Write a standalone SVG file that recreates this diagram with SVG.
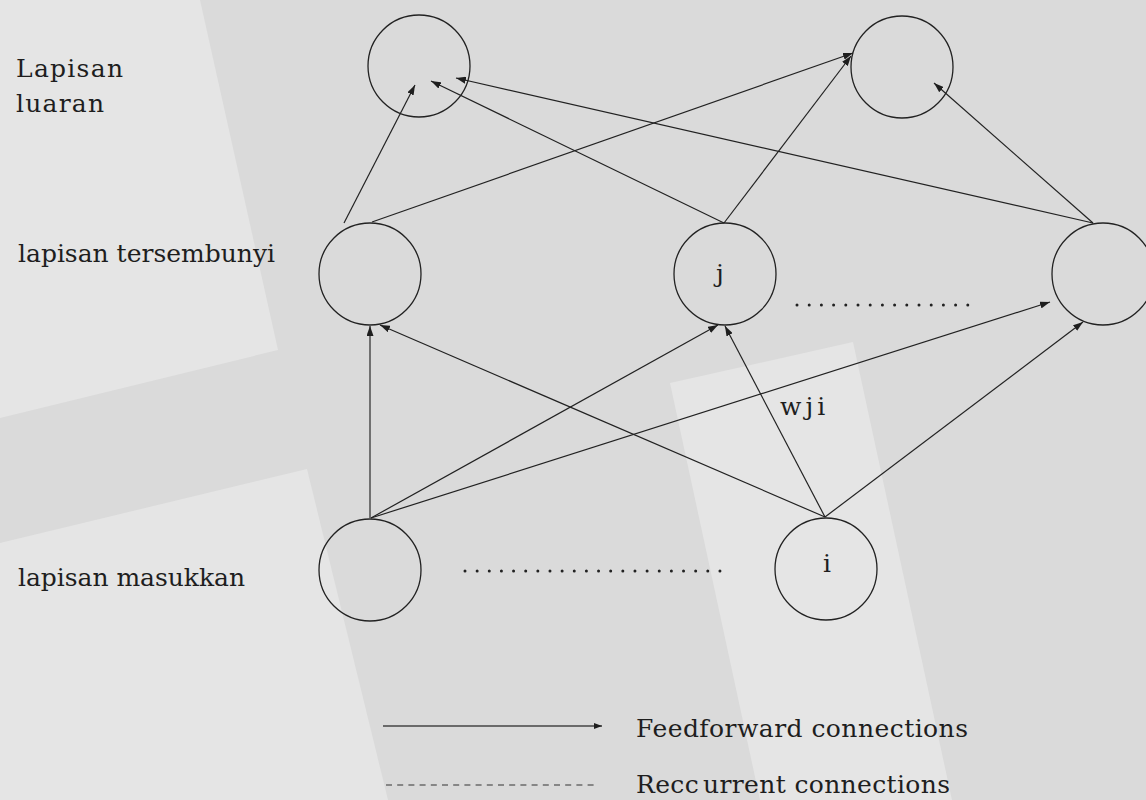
<svg xmlns="http://www.w3.org/2000/svg" width="1146" height="800" viewBox="0 0 1146 800">
<style>
.bg{fill:#dadada}
.lt{fill:#e5e5e5}
.node{fill:none;stroke:#222;stroke-width:1.3}
.conn line{stroke:#222;stroke-width:1.2;marker-end:url(#ah)}
.lbl{font-family:"DejaVu Serif","Liberation Serif",serif;font-size:25px;fill:#1e1e1e}
.dots{stroke:#222;stroke-width:3;stroke-linecap:round;fill:none}
</style>
<defs>
<marker id="ah" viewBox="0 0 10 7" refX="10" refY="3.5" markerWidth="10" markerHeight="7" markerUnits="userSpaceOnUse" orient="auto">
<path d="M0,0 L10,3.5 L0,7 z" fill="#1e1e1e"/>
</marker>
<marker id="ahs" viewBox="0 0 8 6" refX="8" refY="3" markerWidth="8" markerHeight="6" markerUnits="userSpaceOnUse" orient="auto">
<path d="M0,0 L8,3 L0,6 z" fill="#1e1e1e"/>
</marker>
</defs>
<rect class="bg" x="0" y="0" width="1146" height="800"/>
<g id="background">
<polygon class="lt" points="0,0 200,0 278,350 0,418"/>
<polygon class="lt" points="0,543 307,469 388,800 0,800"/>
<polygon class="lt" points="670,383 853,342 952,800 760,800"/>
</g>
<g id="layer-labels">
<text class="lbl" x="16" y="77" textLength="107" lengthAdjust="spacing">Lapisan</text>
<text class="lbl" x="16" y="112" textLength="88" lengthAdjust="spacing">luaran</text>
<text class="lbl" x="18" y="262" textLength="257" lengthAdjust="spacing">lapisan tersembunyi</text>
<text class="lbl" x="18" y="586" textLength="227" lengthAdjust="spacing">lapisan masukkan</text>
</g>
<g id="connectors" class="conn">
<line x1="370" y1="518" x2="370" y2="326" style="stroke:#555;stroke-width:1.6"/>
<line x1="371" y1="518" x2="718" y2="325"/>
<line x1="371" y1="518" x2="1050" y2="302"/>
<line x1="825" y1="517" x2="380" y2="325"/>
<line x1="825" y1="517" x2="725" y2="326"/>
<line x1="825" y1="517" x2="1083" y2="322"/>
<line x1="344" y1="223" x2="415" y2="85"/>
<line x1="372" y1="222" x2="853" y2="53"/>
<line x1="724" y1="223" x2="431" y2="81"/>
<line x1="724" y1="223" x2="851" y2="56"/>
<line x1="1093" y1="223" x2="456" y2="78"/>
<line x1="1093" y1="223" x2="934" y2="83"/>
</g>
<g id="out-left"><circle class="node" cx="419" cy="66" r="51"/></g>
<g id="out-right"><circle class="node" cx="902" cy="67" r="51"/></g>
<g id="hid-left"><circle class="node" cx="370" cy="274" r="51"/></g>
<g id="hid-j"><circle class="node" cx="725" cy="274" r="51"/><text class="lbl" x="720" y="282" text-anchor="middle">j</text></g>
<g id="hid-right"><circle class="node" cx="1103" cy="274" r="51"/></g>
<g id="in-left"><circle class="node" cx="370" cy="570" r="51"/></g>
<g id="in-i"><circle class="node" cx="826" cy="569" r="51"/><text class="lbl" x="827" y="572" text-anchor="middle">i</text></g>
<g id="weight-label"><text class="lbl" x="780" y="415" letter-spacing="4">wji</text></g>
<g id="ellipses">
<line class="dots" x1="797" y1="305" x2="968" y2="305" stroke-dasharray="0 12.2"/>
<line class="dots" x1="465" y1="571" x2="720" y2="571" stroke-dasharray="0 12.14"/>
</g>
<g id="legend">
<line x1="383" y1="726" x2="602" y2="726" style="stroke:#444;stroke-width:1.5;marker-end:url(#ahs)"/>
<line x1="386" y1="785" x2="598" y2="785" style="stroke:#333;stroke-width:1" stroke-dasharray="6 5.2"/>
<text class="lbl" x="636" y="737" textLength="332" lengthAdjust="spacing">Feedforward connections</text>
<text class="lbl" x="636" y="793" textLength="314" lengthAdjust="spacing">Recc<tspan dx="4">urrent</tspan> connections</text>
</g>
</svg>
